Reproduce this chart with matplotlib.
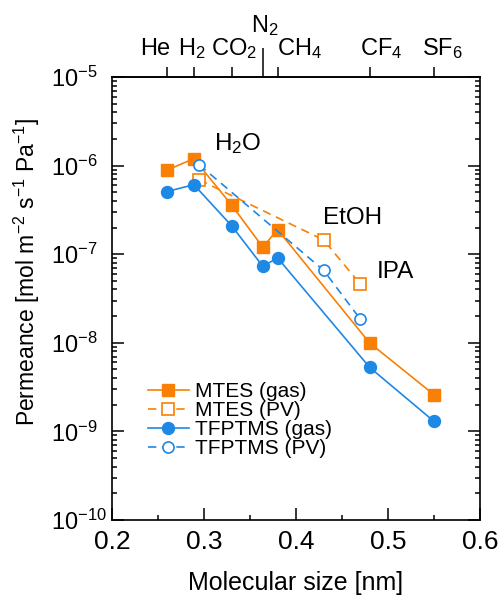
import matplotlib
matplotlib.use('Agg')
import matplotlib.pyplot as plt
from matplotlib.ticker import LogLocator, NullFormatter, MultipleLocator, FixedLocator

plt.rcParams['font.family'] = ['Liberation Sans', 'DejaVu Sans']
plt.rcParams['mathtext.fontset'] = 'custom'
plt.rcParams['mathtext.rm'] = 'Liberation Sans'
plt.rcParams['mathtext.it'] = 'Liberation Sans:italic'
plt.rcParams['mathtext.default'] = 'regular'

# Gas permeation data (molecular size in nm, permeance in mol m-2 s-1 Pa-1)
gases = ['He', 'H$_2$', 'CO$_2$', 'N$_2$', 'CH$_4$', 'CF$_4$', 'SF$_6$']
gas_size = [0.26, 0.289, 0.33, 0.364, 0.38, 0.48, 0.55]
mtes_gas = [8.9e-7, 1.2e-6, 3.6e-7, 1.2e-7, 1.9e-7, 1.0e-8, 2.6e-9]
tfptms_gas = [5.1e-7, 6.1e-7, 2.1e-7, 7.3e-8, 9.1e-8, 5.3e-9, 1.3e-9]

# Pervaporation data
vapors = ['H$_2$O', 'EtOH', 'IPA']
vapor_size = [0.295, 0.43, 0.47]
mtes_pv = [6.9e-7, 1.45e-7, 4.6e-8]
tfptms_pv = [1.02e-6, 6.6e-8, 1.85e-8]

y_ticks = [1e-10, 1e-9, 1e-8, 1e-7, 1e-6, 1e-5]
y_ticklabels = ['$10^{-10}$', '$10^{-9}$', '$10^{-8}$', '$10^{-7}$', '$10^{-6}$', '$10^{-5}$']

orange = '#FA8005'
blue = '#1E88E5'

fig = plt.figure(figsize=(5.02, 5.98), dpi=100)
ax = fig.add_axes([0.223, 0.1304, 0.733, 0.7408])

ax.plot(gas_size, mtes_gas, '-', color=orange, lw=1.2, marker='s', ms=8.6,
        mfc=orange, mec=orange, label='MTES (gas)')
ax.plot(vapor_size, mtes_pv, '--', color=orange, lw=1.2, dashes=(5, 3.5), marker='s', ms=8,
        mfc='white', mec=orange, mew=1.2, label='MTES (PV)')
ax.plot(gas_size, tfptms_gas, '-', color=blue, lw=1.2, marker='o', ms=8.6,
        mfc=blue, mec=blue, label='TFPTMS (gas)')
ax.plot(vapor_size, tfptms_pv, '--', color=blue, lw=1.2, dashes=(5, 3.5), marker='o', ms=8,
        mfc='white', mec=blue, mew=1.2, label='TFPTMS (PV)')

# vapour labels
vapor_offsets = [(28, 15), (21, 16), (25, 9)]
for name, x, y1, y2, off in zip(vapors, vapor_size, mtes_pv, tfptms_pv, vapor_offsets):
    ax.annotate(name, xy=(x, max(y1, y2)), xytext=off, textcoords='offset points',
                ha='center', va='center', fontsize=17.5)

ax.set_yscale('log')
ax.set_xlim(0.2, 0.6)
ax.set_ylim(1e-10, 1e-5)
ax.xaxis.set_major_locator(MultipleLocator(0.1))
ax.xaxis.set_minor_locator(MultipleLocator(0.05))
ax.set_yticks(y_ticks)
ax.set_yticklabels(y_ticklabels)
ax.yaxis.set_minor_locator(LogLocator(base=10, subs=range(2, 10), numticks=20))
ax.yaxis.set_minor_formatter(NullFormatter())

ax.tick_params(which='both', direction='in', top=False, right=True, width=1.1)
ax.tick_params(which='major', length=8.5)
ax.tick_params(which='minor', length=3.8)
ax.tick_params(axis='x', labelsize=19, pad=7.5)
ax.tick_params(axis='y', labelsize=17, pad=44)
for lab in ax.get_yticklabels():
    lab.set_horizontalalignment('left')
for sp in ax.spines.values():
    sp.set_linewidth(1.2)

ax.set_xlabel('Molecular size [nm]', fontsize=18, labelpad=12)
ax.set_ylabel('Permeance [mol m$^{-2}$ s$^{-1}$ Pa$^{-1}$]', fontsize=16.5)
ax.yaxis.set_label_coords(-0.19, 0.561)

# top axis with gas molecule sizes
top = ax.secondary_xaxis('top')
top.spines['top'].set_linewidth(1.2)
top.xaxis.set_major_locator(FixedLocator([s for g, s in zip(gases, gas_size) if g != 'N$_2$']))
top.xaxis.set_minor_locator(FixedLocator([s for g, s in zip(gases, gas_size) if g == 'N$_2$']))
top.tick_params(which='both', direction='out', width=1.1, labeltop=False)
top.tick_params(which='major', length=7.5)
top.tick_params(which='minor', length=21)
top.set_xticklabels([])

gas_label_dx = [-8.5, -1.5, 1.5, 1.5, 15.5, 8.5, 6.5]
for g, s, dx in zip(gases, gas_size, gas_label_dx):
    dy = 32.5 if g == 'N$_2$' else 15.5
    ax.annotate(g, xy=(s, 1.0), xycoords=('data', 'axes fraction'), xytext=(dx, dy),
                textcoords='offset points', ha='center', va='baseline', fontsize=17,
                annotation_clip=False)

ax.legend(loc='upper left', bbox_to_anchor=(0.098, 0.312), frameon=False, fontsize=15,
          handlelength=1.95, handletextpad=0.3, labelspacing=0.0, borderpad=0,
          borderaxespad=0)

fig.savefig('out.png', dpi=100)
